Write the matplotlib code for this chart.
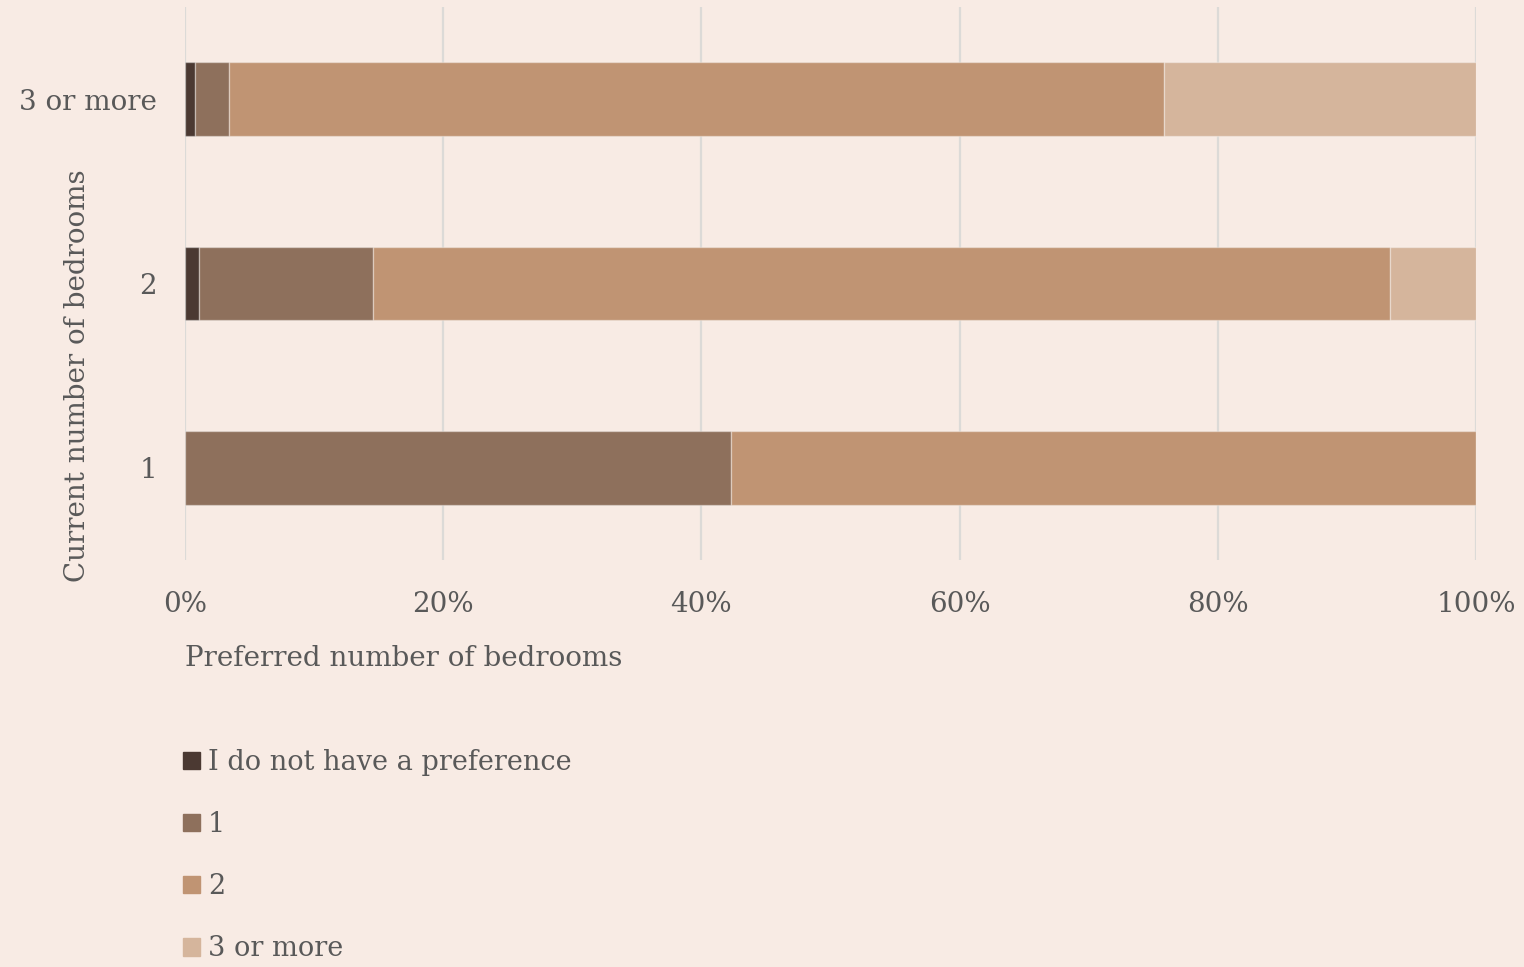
import numpy as np
import matplotlib.pyplot as plt
from matplotlib.patches import Patch

plt.rcParams['font.family'] = ['DejaVu Serif']

current = ['1', '2', '3 or more']
preferences = ['I do not have a preference', '1', '2', '3 or more']
no_pref = [0.0, 1.1, 0.8]
pref_1 = [42.3, 13.5, 2.6]
pref_2 = [57.7, 78.7, 72.4]
pref_3 = [0.0, 6.7, 24.2]

colors = ['#4b3932', '#8e705c', '#c09473', '#d5b59c']
bg = '#f8ebe4'
textColor = '#595959'

fig = plt.figure(figsize=(15.24, 9.67), dpi=100, facecolor=bg)
ax = fig.add_axes([185 / 1524, 1 - 560 / 967, (1476 - 185) / 1524, (560 - 7) / 967])
ax.set_facecolor(bg)

y = np.arange(len(current))
left = np.zeros(len(current))
for values, color, name in zip([no_pref, pref_1, pref_2, pref_3], colors, preferences):
    ax.barh(y, values, left=left, height=0.4, color=color, label=name,
            edgecolor=(1, 1, 1, 0.35), linewidth=1, zorder=3)
    left += np.array(values)

ax.set_xlim(0, 100)
ax.set_ylim(-0.5, 2.5)
ax.set_xticks(np.arange(0, 101, 20))
ax.set_xticklabels([f'{v}%' for v in range(0, 101, 20)])
ax.set_yticks(y)
ax.set_yticklabels(current)
ax.tick_params(length=0, labelsize=20, colors=textColor)
ax.tick_params(axis='x', pad=22)
ax.tick_params(axis='y', pad=20)
ax.grid(axis='x', color='#dcdad7', linewidth=1.6, zorder=0)
for spine in ax.spines.values():
    spine.set_visible(False)

fig.text(185 / 1524, 1 - 658 / 967, 'Preferred number of bedrooms', fontsize=20,
         color=textColor, ha='left', va='center')
fig.text(78 / 1524, 1 - 376 / 967, 'Current number of bedrooms', fontsize=20,
         color=textColor, ha='center', va='center', rotation=90)

handles = [Patch(color=c) for c in colors]
fig.legend(handles, preferences, loc='upper left', bbox_to_anchor=(172 / 1524, 1 - 738 / 967),
           frameon=False, fontsize=19.5, labelcolor=textColor, handlelength=0.62, handleheight=0.62,
           handletextpad=0.3, labelspacing=1.3, borderaxespad=0)

fig.savefig('out.png', dpi=100, facecolor=bg)
